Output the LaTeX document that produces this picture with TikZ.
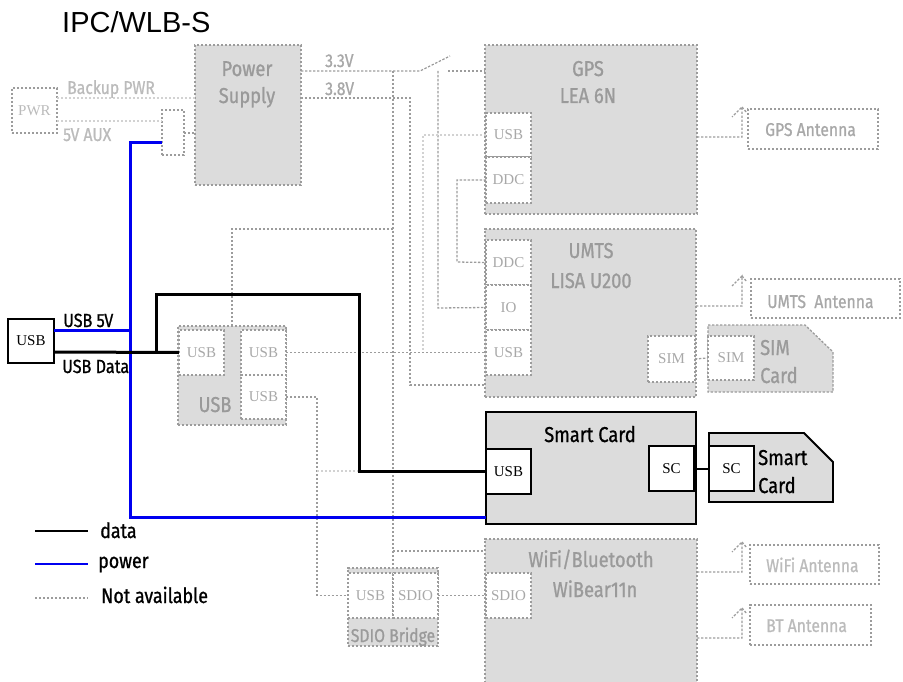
\documentclass[tikz,border=0pt]{standalone}
\usepackage{fontspec}
\setmainfont{Liberation Serif}
\newfontfamily\cond[FakeStretch=0.85,FakeBold=0.9]{Fira Sans}
\newfontfamily\arialf{Liberation Sans}
\newfontfamily\serf{Liberation Serif}
\definecolor{fillg}{HTML}{DCDCDC}
\definecolor{lineg}{HTML}{9C9C9C}
\definecolor{faint}{HTML}{D2D2D2}
\definecolor{txtg}{HTML}{9A9A9A}
\definecolor{porttxt}{HTML}{A8A8A8}
\definecolor{palet}{HTML}{BBBBBB}
\definecolor{pblue}{HTML}{0000F0}
\newcommand\rbox[7]{\node[#1, anchor=north west, minimum width=#5pt-#3pt, minimum height=#6pt-#4pt, inner sep=0pt, outer sep=0pt] (#2) at (#3,#4) {#7};}
\begin{document}
\begin{tikzpicture}[x=1pt,y=-1pt,
  na/.style={draw=lineg, line width=1.3pt, dash pattern=on 2.4pt off 1.6pt},
  nalt/.style={draw=faint, line width=1.3pt, dash pattern=on 2.4pt off 1.6pt},
  gbox/.style={na, fill=fillg},
  gport/.style={na, fill=white, text=porttxt, font=\serf\fontsize{15}{16}\selectfont},
  bport/.style={draw=black, line width=1.6pt, fill=white, text=black, font=\serf\fontsize{15}{16}\selectfont},
  dt/.style={draw=black, line width=3pt},
  pw/.style={draw=pblue, line width=3pt},
  big/.style={text=txtg, font=\cond\fontsize{21.5}{24}\selectfont, inner sep=0pt, anchor=base},
  small/.style={text=porttxt, font=\cond\fontsize{18.5}{20}\selectfont, inner sep=0pt, anchor=base west},
  pale/.style={text=palet, font=\cond\fontsize{18.5}{20}\selectfont, inner sep=0pt, anchor=base west},
  blk/.style={text=black, font=\cond\fontsize{21}{22}\selectfont, inner sep=0pt, anchor=base west},
  ]
\useasboundingbox (0,0) rectangle (903,682);

\node[anchor=base west, inner sep=0pt, font=\arialf\fontsize{29}{30}\selectfont] (title) at (62,33) {IPC/WLB-S};

% ---------- boxes ----------
\rbox{na, fill=white, text=palet, font=\serf\fontsize{15}{16}\selectfont}{pwr}{12}{88}{57}{133}{PWR}
\rbox{na, fill=white}{aux}{162}{110}{184}{155}{}
\rbox{gbox}{ps}{195}{45}{301}{185}{}
\rbox{gbox}{gps}{485}{45}{697}{214}{}
\rbox{gbox}{umts}{485}{229}{696}{397}{}
\rbox{gbox}{wifi}{485}{539}{697}{685}{}
\rbox{gbox}{hub}{178}{326}{286}{425}{}
\rbox{gbox}{bridge}{348}{568}{438}{646}{}
\rbox{draw=black, line width=2pt, fill=fillg}{sc}{486}{412}{696}{524}{}
\rbox{na}{gpsant}{748}{109}{878}{149}{}
\rbox{na}{umtsant}{751}{279}{900}{318}{}
\rbox{na}{wifiant}{750}{545}{879}{584}{}
\rbox{na}{btant}{750}{605}{871}{645}{}
\rbox{draw=black, line width=2pt, fill=white, font=\serf\fontsize{15}{16}\selectfont}{usbc}{8}{319}{54}{363}{USB}

% card shapes
\draw[gbox] (708,325) -- (805,325) -- (833,352) -- (833,392) -- (708,392) -- cycle;
\draw[draw=black, line width=1.8pt, fill=fillg] (709,433) -- (804,433) -- (833,462) -- (833,502) -- (709,502) -- cycle;

% ---------- ports ----------
\rbox{gport}{gpsusb}{486}{113}{531}{157}{USB}
\rbox{gport}{gpsddc}{486}{157}{531}{203}{DDC}
\rbox{gport}{umtsddc}{486}{240}{531}{285}{DDC}
\rbox{gport}{umtsio}{486}{285}{531}{330}{IO}
\rbox{gport}{umtsusb}{486}{330}{531}{375}{USB}
\rbox{gport}{umtssim}{648}{336}{695}{382}{SIM}
\rbox{gport}{simport}{708}{336}{754}{380}{SIM}
\rbox{gport}{hubp1}{179}{330}{224}{375}{USB}
\rbox{gport}{hubp2}{241}{330}{286}{375}{USB}
\rbox{gport}{hubp3}{241}{375}{286}{419}{USB}
\rbox{gport}{brusb}{348}{573}{393}{618}{USB}
\rbox{gport}{brsdio}{393}{573}{438}{618}{SDIO}
\rbox{gport}{wifisdio}{486}{573}{531}{618}{SDIO}
\rbox{bport}{scusb}{486}{449}{531}{494}{USB}
\rbox{bport}{scsc}{649}{446}{694}{491}{SC}
\rbox{bport}{cardsc}{709}{446}{754}{491}{SC}

% ---------- labels ----------
\node[big] (l1) at (247,76) {Power};
\node[big] (l2) at (247,103) {Supply};
\node[big] (l3) at (588,76) {GPS};
\node[big] (l4) at (588,103) {LEA 6N};
\node[big] (l5) at (591,258) {UMTS};
\node[big] (l6) at (591,288) {LISA U200};
\node[big] (l7) at (591,567) {WiFi/Bluetooth};
\node[big] (l8) at (595,597) {WiBear11n};
\node[big] (l9) at (215,412) {USB};
\node[big, anchor=base west] (l10) at (760,355) {SIM};
\node[big, anchor=base west] (l11) at (760,383) {Card};
\node[big, font=\cond\fontsize{18.5}{20}\selectfont] (l12) at (393,642) {SDIO Bridge};
\node[big, text=black] (l13) at (590,442) {Smart Card};
\node[big, text=black, anchor=base west] (l14) at (758,465) {Smart};
\node[big, text=black, anchor=base west] (l15) at (758,493) {Card};
\node[pale] (l16) at (67,94) {Backup PWR};
\node[pale] (l17) at (63,141) {5V AUX};
\node[small] (l18) at (325,67) {3.3V};
\node[small] (l19) at (325,95) {3.8V};
\node[small] (l20) at (765,136) {GPS Antenna};
\node[small] (l21) at (767,308) {UMTS\ \ Antenna};
\node[pale] (l22) at (766,572) {WiFi Antenna};
\node[pale] (l23) at (766,632) {BT Antenna};
\node[blk, font=\cond\fontsize{19}{20}\selectfont] (l24) at (63,327) {USB 5V};
\node[blk, font=\cond\fontsize{19}{20}\selectfont] (l25) at (62,373) {USB Data};
\node[blk] (l26) at (100,538) {data};
\node[blk] (l27) at (98,568) {power};
\node[blk] (l28) at (101,603) {Not available};

% ---------- not available connectors ----------
\draw[nalt] (pwr.east |- 0,98) -- (ps.west |- 0,98);
\draw[nalt] (pwr.east |- 0,121) -- (aux.west |- 0,121);
\draw[na] (aux.east |- 0,133) -- (ps.west |- 0,133);
\coordinate (sw) at (420,71);
\draw[na] (ps.east |- 0,71) -- (sw) -- (450,56);
\draw[na] (448,71) -- (gps.west |- 0,71);
\draw[na] (393,71) -- (393,568);
\draw[na] (393,551) -- (wifi.west |- 0,551);
\draw[na] (438,71) -- (438,308) -- (umtsio.west);
\draw[na] (ps.east |- 0,98) -- (410,98) -- (410,385) -- (umts.west |- 0,385);
\draw[na] (gpsddc.west) -- (457,180) -- (457,262) -- (umtsddc.west);
\draw[nalt] (gpsusb.west) -- (423,135) -- (423,352);
\draw[na] (hubp2.east) -- (umtsusb.west);
\draw[na] (232,326) -- (232,229) -- (393,229);
\draw[na] (hubp3.east) -- (317,397) -- (317,595.5) -- (brusb.west);
\draw[nalt] (317,471) -- (359,471);
\draw[na] (brsdio.east) -- (wifisdio.west);
\draw[na] (umtssim.east) -- (simport.west);
% antennas
\draw[na] (gps.east |- 0,137) -- (742,137) -- (742,107) -- (732,117);
\draw[na] (742,107) -- (747,113);
\draw[na] (umts.east |- 0,306) -- (742,306) -- (742,276) -- (732,286);
\draw[na] (742,276) -- (747,282);
\draw[na] (wifi.east |- 0,572) -- (742,572) -- (742,542) -- (732,552);
\draw[na] (742,542) -- (747,548);
\draw[na] (wifi.east |- 0,638) -- (742,638) -- (742,608) -- (732,618);
\draw[na] (742,608) -- (747,614);

% ---------- power ----------
\draw[pw] (aux.west |- 0,143) -- (130,143) -- (130,517) -- (sc.west |- 0,517);
\draw[pw] (usbc.east |- 0,330) -- (130,330);

% ---------- data ----------
\draw[dt] (usbc.east |- 0,352) -- (hubp1.west);
\draw[dt] (156,352) -- (156,294) -- (359,294) -- (359,471.5) -- (scusb.west);
\draw[draw=black, line width=2pt] (scsc.east) -- (cardsc.west);

% ---------- legend ----------
\coordinate (la1) at (35,531); \coordinate (la2) at (88,531);
\coordinate (lb1) at (35,564); \coordinate (lb2) at (88,564);
\coordinate (lc1) at (35,598); \coordinate (lc2) at (88,598);
\draw[draw=black, line width=2pt] (la1) -- (la2);
\draw[draw=pblue, line width=2pt] (lb1) -- (lb2);
\draw[na, line width=1.6pt] (lc1) -- (lc2);
\end{tikzpicture}
\end{document}
